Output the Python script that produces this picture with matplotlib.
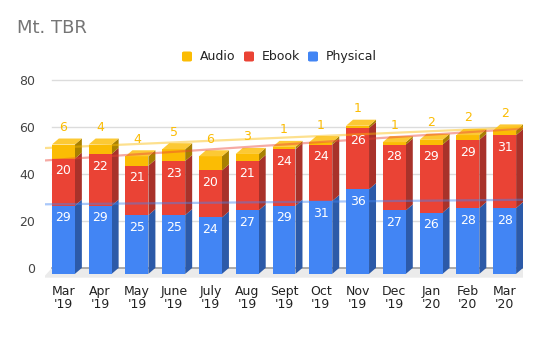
import numpy as np
import matplotlib
matplotlib.use("Agg")
import matplotlib.pyplot as plt
from matplotlib.patches import Polygon, Rectangle, FancyBboxPatch

months = ["Mar\n'19", "Apr\n'19", "May\n'19", "June\n'19", "July\n'19", "Aug\n'19",
          "Sept\n'19", "Oct\n'19", "Nov\n'19", "Dec\n'19", "Jan\n'20", "Feb\n'20", "Mar\n'20"]
physical = [29, 29, 25, 25, 24, 27, 29, 31, 36, 27, 26, 28, 28]
ebook = [20, 22, 21, 23, 20, 21, 24, 24, 26, 28, 29, 29, 31]
audio = [6, 4, 4, 5, 6, 3, 1, 1, 1, 1, 2, 2, 2]

BLUE, RED, YEL = "#4285f4", "#ea4335", "#fbbc04"
SIDE = {BLUE: "#2c5aa8", RED: "#a8322a", YEL: "#a88000"}
TOP_YEL = "#fcc934"

W, H = 550, 340
fig = plt.figure(figsize=(W / 100, H / 100), dpi=100)
# axes placed in pixel terms: x -0.5..12.5 spans px 45..523, y -6..82 spans px 282..75
ax = fig.add_axes([45 / W, (H - 282) / H, 478 / W, 207 / H])
ax.set_xlim(-0.5, 12.5)
ax.set_ylim(-6, 82)
for s in ax.spines.values():
    s.set_visible(False)

n = len(months)
x = np.arange(n)
w = 0.625
dx, dy = 0.19, 2.56   # 3D depth offset (category units, value units)

# grid on the back plane
for v in [20, 40, 60, 80]:
    ax.plot([-0.5 + dx, 12.5 + dx], [v, v], color="#dcdcdc", lw=1, zorder=0)
# floor
ax.add_patch(Polygon([(-0.5 + dx, 0), (12.5 + dx, 0), (12.5, -dy - 1.6), (-0.5 - 0.05, -dy - 1.6)],
                     closed=True, fc="#ebebeb", ec="none", zorder=0))
ax.plot([-0.5 + dx, 12.5 + dx], [0, 0], color="#9e9e9e", lw=1.2, zorder=0.5)

series = [(physical, BLUE), (ebook, RED), (audio, YEL)]
for i in range(n):
    base = -dy
    for k, (vals, col) in enumerate(series):
        b, t = base, base + vals[i]
        l, r = i - w / 2, i + w / 2
        ax.add_patch(Polygon([(r, b), (r + dx, b + dy), (r + dx, t + dy), (r, t)],
                             closed=True, fc=SIDE[col], ec="none", zorder=2))
        ax.add_patch(Rectangle((l, b), w, vals[i], fc=col, ec="none", zorder=2))
        if k == len(series) - 1:
            ax.add_patch(Polygon([(l, t), (l + dx, t + dy), (r + dx, t + dy), (r, t)],
                                 closed=True, fc=TOP_YEL, ec="none", zorder=2))
            ax.text(i, t + 7.3, str(vals[i]), color=YEL, fontsize=9,
                    ha="center", va="center", zorder=5)
        else:
            ax.text(i, t - 5.2, str(vals[i]), color="white", fontsize=9,
                    ha="center", va="center", zorder=5)
        base = t

# linear trendlines on the cumulative stacks
cum_p = np.array(physical)
cum_e = cum_p + np.array(ebook)
cum_a = cum_e + np.array(audio)
xx = np.array([-0.6, 12.76])
for cum, col in [(cum_p, BLUE), (cum_e, RED), (cum_a, YEL)]:
    m, c = np.polyfit(x, cum, 1)
    ax.plot(xx, m * xx + c, color=col, lw=1.6, alpha=0.45, zorder=4,
            solid_capstyle="butt")

ax.set_yticks([0, 20, 40, 60, 80])
ax.set_yticklabels(["0", "20", "40", "60", "80"])
ax.set_xticks(x)
ax.set_xticklabels(months, linespacing=1.05)
ax.tick_params(axis="y", length=0, pad=7, labelsize=9, labelcolor="#444444")
ax.tick_params(axis="x", length=0, pad=2, labelsize=9, labelcolor="#222222")

fig.text(17 / W, 1 - 28 / H, "Mt. TBR", fontsize=13, color="#757575",
         ha="left", va="center")

# legend
for lx, txt, col in [(182, "Audio", YEL), (244, "Ebook", RED), (308, "Physical", BLUE)]:
    fig.add_artist(FancyBboxPatch((lx / W, 1 - 61.5 / H), 10 / W, 10 / H,
                                  boxstyle="round,pad=0,rounding_size=0.004",
                                  transform=fig.transFigure, fc=col, ec="none"))
    fig.text((lx + 18) / W, 1 - 56.5 / H, txt, fontsize=9, color="#222222",
             ha="left", va="center")

fig.savefig("out.png", dpi=100)
